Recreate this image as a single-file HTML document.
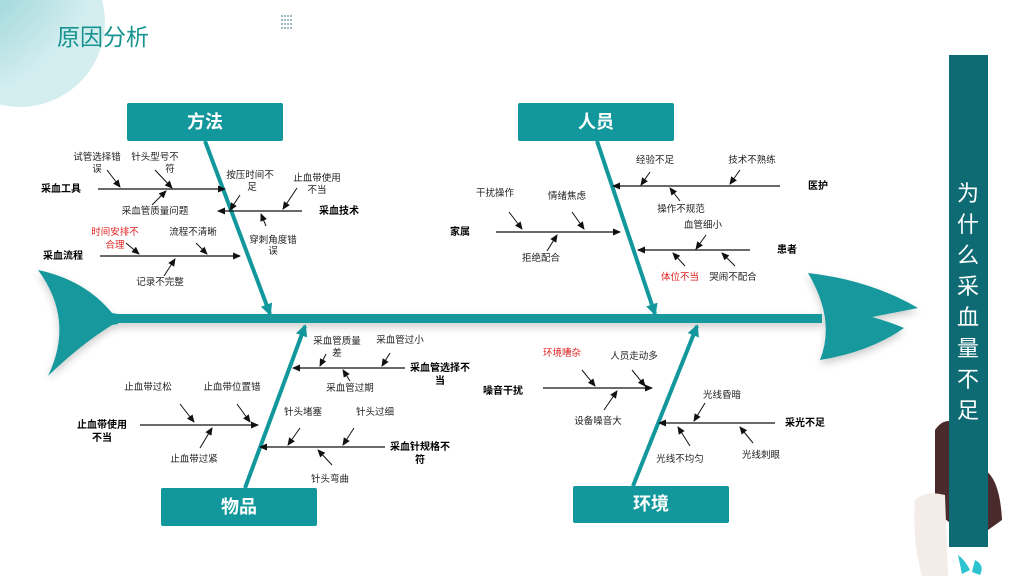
<!DOCTYPE html>
<html><head><meta charset="utf-8"><style>
html,body{margin:0;padding:0;background:#fff;}
svg{display:block;}
text{font-family:"Liberation Sans","Noto Sans CJK SC",sans-serif;}
.s{font-size:9.5px;fill:#222;text-anchor:middle;}
.r{fill:#e02020;}
.b{font-size:10px;font-weight:bold;fill:#000;text-anchor:middle;}
.bx{font-size:18px;font-weight:bold;fill:#fff;text-anchor:middle;}
.ln{stroke:#111;stroke-width:1.3;fill:none;}
.ar{stroke:#111;stroke-width:1;fill:none;marker-end:url(#a);}
.ln2{stroke:#111;stroke-width:1.3;fill:none;marker-end:url(#a);}
</style></head><body>
<svg width="1024" height="576" viewBox="0 0 1024 576" xmlns="http://www.w3.org/2000/svg">
<defs>
<marker id="a" markerWidth="8" markerHeight="8" refX="7" refY="4" orient="auto" markerUnits="userSpaceOnUse"><path d="M0,0.5 L8,4 L0,7.5 Z" fill="#111"/></marker>
<marker id="t" markerWidth="12" markerHeight="12" refX="10" refY="6" orient="auto" markerUnits="userSpaceOnUse"><path d="M0,0 L12,6 L0,12 Z" fill="#12989c"/></marker>
<radialGradient id="g" cx="0" cy="0" r="1"><stop offset="0" stop-color="#6fc2c6"/><stop offset="1" stop-color="#d4eef0"/></radialGradient>
<filter id="sh"><feDropShadow dx="0" dy="4" stdDeviation="4" flood-color="#000" flood-opacity="0.2"/></filter>
</defs>
<circle cx="20" cy="22" r="85" fill="url(#g)"/>
<text x="57" y="45" style="font-size:23px;fill:#16938f;">原因分析</text>
<g fill="#9bbcc4">
<rect x="281" y="15" width="2" height="2"/><rect x="284" y="15" width="2" height="2"/><rect x="287" y="15" width="2" height="2"/><rect x="290" y="15" width="2" height="2"/>
<rect x="281" y="19" width="2" height="2"/><rect x="284" y="19" width="2" height="2"/><rect x="287" y="19" width="2" height="2"/><rect x="290" y="19" width="2" height="2"/>
<rect x="281" y="23" width="2" height="2"/><rect x="284" y="23" width="2" height="2"/><rect x="287" y="23" width="2" height="2"/><rect x="290" y="23" width="2" height="2"/>
<rect x="281" y="27" width="2" height="2"/><rect x="284" y="27" width="2" height="2"/><rect x="287" y="27" width="2" height="2"/><rect x="290" y="27" width="2" height="2"/>
</g>
<!-- fish -->
<g fill="#12989c" filter="url(#sh)">
<path d="M38,270 Q85,280 112,313 L118,314 L118,324 L112,325 Q80,345 48,376 Q75,320 38,270 Z"/>
<rect x="112" y="314" width="710" height="9"/>
<path d="M808,273 Q870,280 918,308 L872,317 Q890,322 904,328 Q870,352 820,360 Q836,320 808,273 Z"/>
</g>
<!-- bones -->
<line x1="205" y1="141" x2="270" y2="314" stroke="#12989c" stroke-width="4" marker-end="url(#t)"/>
<line x1="597" y1="141" x2="655" y2="314" stroke="#12989c" stroke-width="4" marker-end="url(#t)"/>
<line x1="245" y1="488" x2="305" y2="326" stroke="#12989c" stroke-width="4" marker-end="url(#t)"/>
<line x1="633" y1="486" x2="697" y2="326" stroke="#12989c" stroke-width="4" marker-end="url(#t)"/>
<rect x="127" y="103" width="156" height="38" rx="2" fill="#12989c"/><text class="bx" x="205" y="128">方法</text>
<rect x="518" y="103" width="156" height="38" rx="2" fill="#12989c"/><text class="bx" x="596" y="128">人员</text>
<rect x="161" y="488" width="156" height="38" rx="2" fill="#12989c"/><text class="bx" x="239" y="513">物品</text>
<rect x="573" y="486" width="156" height="37" rx="2" fill="#12989c"/><text class="bx" x="651" y="510">环境</text>
<!-- 方法 -->
<line class="ln2" x1="98" y1="189" x2="225" y2="189"/><text class="b" x="61" y="192">采血工具</text>
<text class="s" x="97" y="160">试管选择错</text><text class="s" x="97" y="172">误</text><line class="ar" x1="107" y1="170" x2="120" y2="187"/>
<text class="s" x="155" y="160">针头型号不</text><text class="s" x="170" y="172">符</text><line class="ar" x1="155" y1="170" x2="172" y2="188"/>
<text class="s" x="155" y="214">采血管质量问题</text><line class="ar" x1="152" y1="205" x2="166" y2="191"/>
<line class="ln2" x1="302" y1="211" x2="218" y2="211"/><text class="b" x="339" y="214">采血技术</text>
<text class="s" x="250" y="178">按压时间不</text><text class="s" x="252" y="190">足</text><line class="ar" x1="240" y1="195" x2="230" y2="210"/>
<text class="s" x="317" y="181">止血带使用</text><text class="s" x="317" y="193">不当</text><line class="ar" x1="297" y1="188" x2="283" y2="209"/>
<text class="s" x="273" y="243">穿刺角度错</text><text class="s" x="273" y="254">误</text><line class="ar" x1="266" y1="226" x2="261" y2="214"/>
<line class="ln2" x1="100" y1="256" x2="240" y2="256"/><text class="b" x="63" y="259">采血流程</text>
<text class="s r" x="115" y="235">时间安排不</text><text class="s r" x="115" y="248">合理</text><line class="ar" x1="126" y1="243" x2="139" y2="254"/>
<text class="s" x="193" y="235">流程不清晰</text><line class="ar" x1="196" y1="243" x2="207" y2="254"/>
<text class="s" x="160" y="285">记录不完整</text><line class="ar" x1="164" y1="276" x2="175" y2="259"/>
<!-- 人员 -->
<line class="ln2" x1="780" y1="186" x2="613" y2="186"/><text class="b" x="818" y="189">医护</text>
<text class="s" x="655" y="163">经验不足</text><line class="ar" x1="650" y1="172" x2="641" y2="185"/>
<text class="s" x="752" y="163">技术不熟练</text><line class="ar" x1="740" y1="170" x2="730" y2="184"/>
<text class="s" x="681" y="212">操作不规范</text><line class="ar" x1="680" y1="201" x2="670" y2="188"/>
<line class="ln2" x1="496" y1="232" x2="620" y2="232"/><text class="b" x="460" y="235">家属</text>
<text class="s" x="495" y="196">干扰操作</text><line class="ar" x1="509" y1="212" x2="522" y2="229"/>
<text class="s" x="567" y="199">情绪焦虑</text><line class="ar" x1="572" y1="212" x2="584" y2="229"/>
<text class="s" x="541" y="261">拒绝配合</text><line class="ar" x1="547" y1="251" x2="557" y2="235"/>
<line class="ln2" x1="750" y1="250" x2="638" y2="250"/><text class="b" x="787" y="253">患者</text>
<text class="s" x="703" y="228">血管细小</text><line class="ar" x1="706" y1="235" x2="696" y2="249"/>
<text class="s r" x="680" y="280">体位不当</text><line class="ar" x1="685" y1="266" x2="673" y2="253"/>
<text class="s" x="733" y="280">哭闹不配合</text><line class="ar" x1="735" y1="266" x2="722" y2="253"/>
<!-- 物品 -->
<line class="ln2" x1="405" y1="368" x2="293" y2="368"/><text class="b" x="440" y="371">采血管选择不</text><text class="b" x="440" y="384">当</text>
<text class="s" x="337" y="344">采血管质量</text><text class="s" x="337" y="356">差</text><line class="ar" x1="326" y1="354" x2="320" y2="366"/>
<text class="s" x="400" y="343">采血管过小</text><line class="ar" x1="390" y1="353" x2="382" y2="366"/>
<text class="s" x="350" y="391">采血管过期</text><line class="ar" x1="350" y1="381" x2="343" y2="370"/>
<line class="ln2" x1="140" y1="425" x2="258" y2="425"/><text class="b" x="102" y="428">止血带使用</text><text class="b" x="102" y="441">不当</text>
<text class="s" x="148" y="390">止血带过松</text><line class="ar" x1="180" y1="404" x2="194" y2="422"/>
<text class="s" x="232" y="390">止血带位置错</text><line class="ar" x1="237" y1="404" x2="250" y2="422"/>
<text class="s" x="194" y="462">止血带过紧</text><line class="ar" x1="200" y1="448" x2="212" y2="428"/>
<line class="ln2" x1="385" y1="447" x2="260" y2="447"/><text class="b" x="420" y="450">采血针规格不</text><text class="b" x="420" y="463">符</text>
<text class="s" x="303" y="415">针头堵塞</text><line class="ar" x1="300" y1="428" x2="288" y2="445"/>
<text class="s" x="375" y="415">针头过细</text><line class="ar" x1="354" y1="428" x2="343" y2="445"/>
<text class="s" x="330" y="482">针头弯曲</text><line class="ar" x1="332" y1="465" x2="318" y2="450"/>
<!-- 环境 -->
<line class="ln2" x1="543" y1="388" x2="652" y2="388"/><text class="b" x="503" y="394">噪音干扰</text>
<text class="s r" x="562" y="356">环境嘈杂</text><line class="ar" x1="582" y1="370" x2="595" y2="386"/>
<text class="s" x="634" y="359">人员走动多</text><line class="ar" x1="632" y1="370" x2="645" y2="386"/>
<text class="s" x="598" y="424">设备噪音大</text><line class="ar" x1="604" y1="410" x2="617" y2="391"/>
<line class="ln2" x1="775" y1="423" x2="659" y2="423"/><text class="b" x="805" y="426">采光不足</text>
<text class="s" x="722" y="398">光线昏暗</text><line class="ar" x1="705" y1="403" x2="694" y2="421"/>
<text class="s" x="680" y="462">光线不均匀</text><line class="ar" x1="690" y1="446" x2="678" y2="427"/>
<text class="s" x="761" y="458">光线刺眼</text><line class="ar" x1="753" y1="443" x2="740" y2="427"/>
<!-- doctor rough -->
<path d="M935,430 Q945,415 960,425 L960,530 Q945,520 935,510 Z" fill="#4a2a2a"/>
<path d="M985,470 Q1000,480 1002,520 L988,530 Z" fill="#4a2a2a"/>
<path d="M915,500 Q925,490 945,495 L948,576 L922,576 Q912,540 915,500 Z" fill="#f3ece8"/>
<path d="M958,555 Q965,560 970,570 L962,574 Z" fill="#2bc3d0"/>
<path d="M975,560 Q985,565 980,575 L972,572 Z" fill="#2bc3d0"/>
<!-- side panel -->
<rect x="949" y="55" width="39" height="492" fill="#0e6b73"/>
<g style="font-size:22px;fill:#fff;" text-anchor="middle">
<text x="968" y="201">为</text><text x="968" y="232">什</text><text x="968" y="263">么</text><text x="968" y="294">采</text><text x="968" y="325">血</text><text x="968" y="356">量</text><text x="968" y="387">不</text><text x="968" y="418">足</text>
</g>
</svg>
</body></html>
